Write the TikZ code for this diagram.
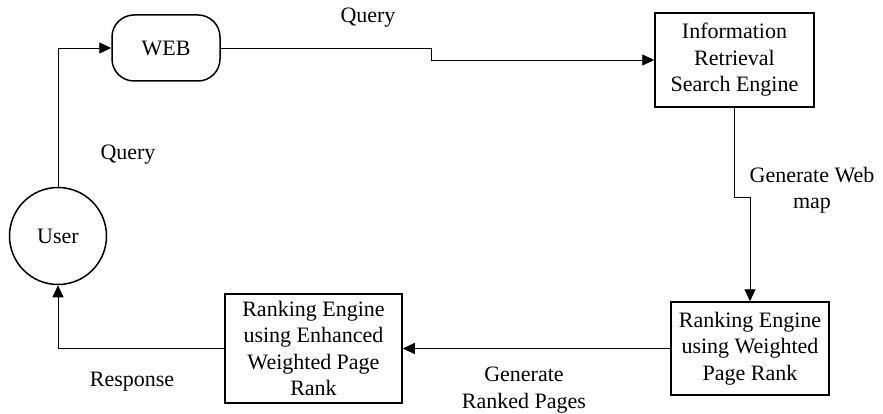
\documentclass[tikz,border=0pt]{standalone}
\usepackage{fontspec}
\setmainfont{Liberation Serif}
\usetikzlibrary{arrows.meta}
\begin{document}
\begin{tikzpicture}[x=1pt,y=-1pt,
  every node/.style={font=\fontsize{22}{26.5}\selectfont, align=center, inner sep=0pt},
  block/.style={draw, line width=1.5pt, minimum width=#1},
  terminal/.style={draw, line width=1.5pt, rounded corners=22pt, minimum width=108pt, minimum height=66pt},
  actor/.style={draw, circle, line width=1.5pt, minimum size=97pt},
  flow/.style={line width=0.9pt, -{Triangle[length=12pt,width=11pt]}},
  lbl/.style={}]
\useasboundingbox (0,0) rectangle (883,414);

% nodes
\node[terminal] (web) at (166,48) {WEB};
\node[block=159pt, minimum height=94pt] (ir) at (734.5,60) {Information\\Retrieval\\Search Engine};
\node[actor] (user) at (58,236) {User};
\node[block=158pt, minimum height=93pt] (rw) at (750,348.5) {Ranking Engine\\using Weighted\\Page Rank};
\node[block=177pt, minimum height=109pt] (re) at (313.5,348.5) {Ranking Engine\\using Enhanced\\Weighted Page\\Rank};

% turning points of the connectors
\coordinate (c1) at (58,48);
\coordinate (c2) at (431,48);
\coordinate (c3) at (431,60);
\coordinate (c4) at (734.5,197);
\coordinate (c5) at (750,197);
\coordinate (c6) at (58,348.5);

% connectors
\draw[flow] (user.north) -- (c1) -- (web.west);
\draw[flow] (web.east) -- (c2) -- (c3) -- (ir.west);
\draw[flow] (ir.south) -- (c4) -- (c5) -- (rw.north);
\draw[flow] (rw.west) -- (re.east);
\draw[flow] (re.west) -- (c6) -- (user.south);

% labels
\node[lbl] (q1) at (368,18) {Query};
\node[lbl] (q2) at (128,155) {Query};
\node[lbl] (gw) at (812,190) {Generate Web\\map};
\node[lbl] (gr) at (524,390) {Generate\\Ranked Pages};
\node[lbl] (rs) at (132,382) {Response};
\end{tikzpicture}
\end{document}
